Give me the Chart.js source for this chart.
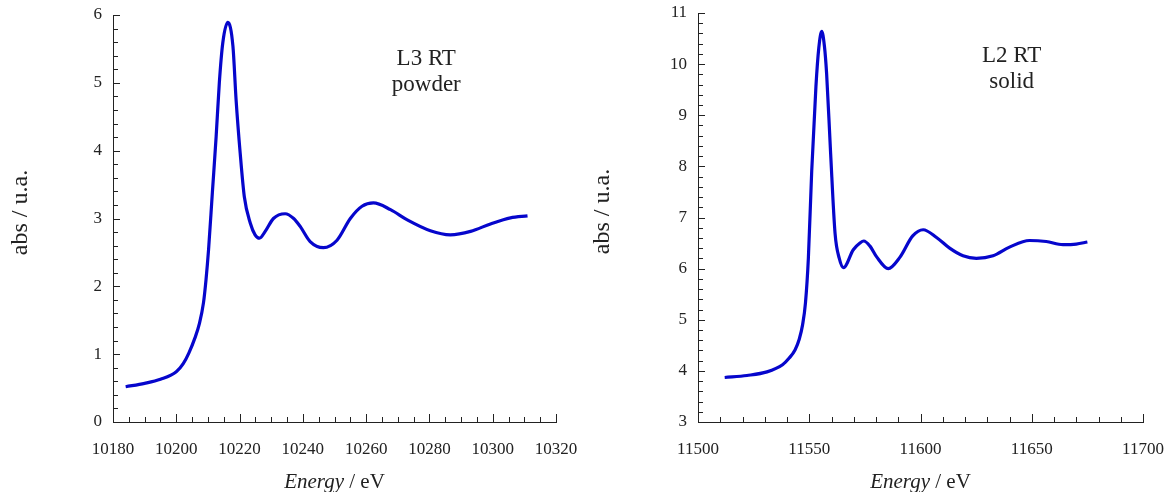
<!DOCTYPE html>
<html>
<head>
<meta charset="utf-8">
<script src="https://cdn.jsdelivr.net/npm/chart.js@4.4.1/dist/chart.umd.min.js"></script>
<style>
  html, body { margin: 0; padding: 0; background: #fff; }
  #wrap { position: relative; width: 1168px; height: 492px; }
  canvas { position: absolute; top: 0; }
  #c1 { left: 0; }
  #c2 { left: 584px; }
</style>
</head>
<body>
<div id="wrap">
  <canvas id="c1" width="584" height="492"></canvas>
  <canvas id="c2" width="584" height="492"></canvas>
</div>
<script>
// L3 edge, powder, room temperature
const energiaL3 = [10184, 10190, 10195, 10200, 10202.2, 10204, 10205.9, 10207.3, 10208.6, 10209.4,
  10210.2, 10211.4, 10212.6, 10213.6, 10214.7, 10216.3, 10217.9, 10218.9, 10220.2, 10221.5,
  10223.4, 10224.9, 10226.3, 10228.1, 10230.7, 10234.4, 10237.1, 10239.2, 10242.3, 10246.5,
  10250.8, 10255, 10258.7, 10262.3, 10267.7, 10273, 10280.3, 10286.6, 10293, 10299.3,
  10305.6, 10311];
const absL3 = [0.52, 0.57, 0.63, 0.74, 0.86, 1.02, 1.24, 1.45, 1.76, 2.1,
  2.54, 3.38, 4.21, 5.0, 5.59, 5.89, 5.54, 4.75, 3.96, 3.32,
  2.93, 2.76, 2.71, 2.81, 3.0, 3.07, 3.0, 2.88, 2.66, 2.57,
  2.68, 3.0, 3.18, 3.23, 3.13, 2.98, 2.82, 2.76, 2.81, 2.92,
  3.01, 3.04];

// L2 edge, solid, room temperature
const energiaL2 = [11512, 11522, 11531, 11538, 11541, 11543.6, 11545.5, 11547, 11548.3, 11549.6,
  11551.1, 11553, 11554.3, 11555.6, 11556.8, 11557.8, 11559.6, 11561.6, 11563.5, 11565.4,
  11569.8, 11572.8, 11574.5, 11577.3, 11580.3, 11585.5, 11590.7, 11596.5, 11601.2, 11607.2,
  11613.1, 11619.1, 11625.1, 11632.6, 11640, 11649, 11656.5, 11664, 11670, 11675];
const absL2 = [3.87, 3.91, 3.98, 4.12, 4.25, 4.41, 4.62, 4.9, 5.33, 6.2,
  7.9, 9.56, 10.32, 10.64, 10.36, 9.82, 8.26, 6.69, 6.2, 6.02,
  6.37, 6.5, 6.54, 6.44, 6.23, 6.0, 6.22, 6.64, 6.76, 6.61,
  6.4, 6.25, 6.2, 6.25, 6.42, 6.55, 6.53, 6.47, 6.48, 6.52];

const etiquetaL3 = ["L3 RT", "powder"];
const etiquetaL2 = ["L2 RT", "solid"];

const serif = "'Liberation Serif', 'Times New Roman', serif";
const negro = "#222";
const azul = "#0606cc";

// ticks hacia adentro (mayores y menores), textos y titulos de los ejes
const extras = {
  id: "extras",
  afterDraw(chart, args, opts) {
    const ctx = chart.ctx;
    const xs = chart.scales.x, ys = chart.scales.y;
    ctx.save();
    ctx.strokeStyle = negro;
    ctx.lineWidth = 1;
    ctx.beginPath();
    const nx = Math.round((xs.max - xs.min) / opts.xMinor);
    for (let i = 0; i <= nx; i++) {
      const v = xs.min + i * opts.xMinor;
      const px = Math.round(xs.getPixelForValue(v)) + 0.5;
      const len = i % opts.xEvery === 0 ? 8 : 5;
      ctx.moveTo(px, ys.bottom);
      ctx.lineTo(px, ys.bottom - len);
    }
    const ny = Math.round((ys.max - ys.min) / opts.yMinor);
    for (let i = 0; i <= ny; i++) {
      const v = ys.min + i * opts.yMinor;
      const py = Math.round(ys.getPixelForValue(v)) + 0.5;
      const len = i % opts.yEvery === 0 ? 7 : 5;
      ctx.moveTo(xs.left, py);
      ctx.lineTo(xs.left + len, py);
    }
    ctx.stroke();

    // texto dentro del grafico
    ctx.fillStyle = negro;
    ctx.textAlign = "center";
    ctx.textBaseline = "alphabetic";
    ctx.font = "23px " + serif;
    const cx = xs.getPixelForValue(opts.nota.x);
    const cy = ys.getPixelForValue(opts.nota.y);
    opts.nota.lineas.forEach((t, i) => ctx.fillText(t, cx, cy + i * 26));

    // titulo eje y (girado)
    ctx.save();
    ctx.translate(opts.yTituloX, (ys.top + ys.bottom) / 2 - 6);
    ctx.rotate(-Math.PI / 2);
    ctx.textBaseline = "middle";
    ctx.font = "24px " + serif;
    ctx.fillText("abs / u.a.", 0, 0);
    ctx.restore();

    // titulo eje x: "Energy" en cursiva
    const a = "Energy", b = " / eV";
    ctx.font = "italic 21px " + serif;
    const wa = ctx.measureText(a).width;
    ctx.font = "21px " + serif;
    const wb = ctx.measureText(b).width;
    const x0 = (xs.left + xs.right) / 2 - (wa + wb) / 2;
    ctx.textAlign = "left";
    ctx.font = "italic 21px " + serif;
    ctx.fillText(a, x0, 488);
    ctx.font = "21px " + serif;
    ctx.fillText(b, x0 + wa, 488);
    ctx.restore();
  },
};

function crearGrafico(id, xs, ys, cfg) {
  const puntos = xs.map((x, i) => ({ x: x, y: ys[i] }));
  return new Chart(document.getElementById(id), {
    type: "line",
    data: {
      datasets: [{
        data: puntos,
        borderColor: azul,
        borderWidth: 3.2,
        pointRadius: 0,
        cubicInterpolationMode: "monotone",
        fill: false,
      }],
    },
    options: {
      responsive: false,
      animation: false,
      layout: { padding: cfg.padding },
      plugins: {
        legend: { display: false },
        tooltip: { enabled: false },
        extras: cfg.extras,
      },
      scales: {
        x: {
          type: "linear",
          min: cfg.xMin, max: cfg.xMax,
          grid: { display: false, drawTicks: false },
          border: { display: true, color: negro, width: 1 },
          ticks: {
            stepSize: cfg.xStep,
            color: negro,
            font: { family: serif, size: 17 },
            padding: 17,
            maxRotation: 0,
            autoSkip: false,
            callback: (v) => String(v),
          },
          afterFit: (s) => { s.height = 70; s.paddingLeft = 0; s.paddingRight = 0; },
        },
        y: {
          min: cfg.yMin, max: cfg.yMax,
          grid: { display: false, drawTicks: false },
          border: { display: true, color: negro, width: 1 },
          ticks: {
            stepSize: 1,
            color: negro,
            font: { family: serif, size: 17 },
            padding: 11,
            callback: (v) => String(v),
          },
          afterFit: (s) => { s.width = cfg.yWidth; s.paddingTop = 0; s.paddingBottom = 0; },
        },
      },
    },
    plugins: [extras],
  });
}

crearGrafico("c1", energiaL3, absL3, {
  padding: { left: 0, top: 15, right: 28, bottom: 0 },
  xMin: 10180, xMax: 10320, xStep: 20,
  yMin: 0, yMax: 6,
  yWidth: 113,
  extras: { xMinor: 5, xEvery: 4, yMinor: 0.2, yEvery: 5, yTituloX: 21,
    nota: { x: 10279, y: 5.27, lineas: etiquetaL3 } },
});

crearGrafico("c2", energiaL2, absL2, {
  padding: { left: 0, top: 13, right: 25, bottom: 0 },
  xMin: 11500, xMax: 11700, xStep: 50,
  yMin: 3, yMax: 11,
  yWidth: 114,
  extras: { xMinor: 10, xEvery: 5, yMinor: 0.2, yEvery: 5, yTituloX: 19,
    nota: { x: 11641, y: 10.05, lineas: etiquetaL2 } },
});
</script>
</body>
</html>
